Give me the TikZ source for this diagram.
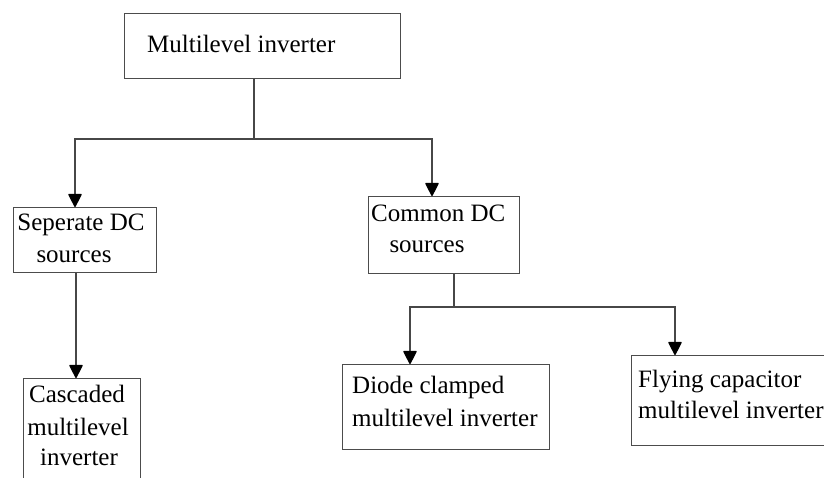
\documentclass[tikz,border=0pt]{standalone}
\usepackage{fontspec}
\setmainfont{Liberation Serif}
\usetikzlibrary{arrows.meta}
\begin{document}
\begin{tikzpicture}[x=1pt,y=-1pt,
  box/.style={draw=black!70,line width=1.3pt,inner sep=0pt,anchor=north west,rectangle},
  lbl/.style={inner sep=0pt,font=\fontsize{25}{30}\selectfont},
  conn/.style={draw=black!72,line width=1.4pt},
  arr/.style={conn,-{Triangle[width=14pt,length=14pt,round,color=black]}}]
\clip (0,0) rectangle (824,477);
\fill[white] (0,0) rectangle (824,477);
% boxes
\node[box,minimum width=276pt,minimum height=65pt] (top) at (124,13) {};
\node[box,minimum width=143pt,minimum height=65pt] (sep) at (13,207) {};
\node[box,minimum width=151pt,minimum height=77pt] (com) at (368,196) {};
\node[box,minimum width=117pt,minimum height=120pt] (cas) at (23,378) {};
\node[box,minimum width=207pt,minimum height=85pt] (dio) at (342,364) {};
\node[box,minimum width=220pt,minimum height=90pt] (fly) at (631,355) {};
% texts
\node[lbl,anchor=base west] (t1) at (147,52) {Multilevel inverter};
\node[lbl,anchor=base] (s1) at (81,230) {Seperate DC};
\node[lbl,anchor=base] (s2) at (74,262) {sources};
\node[lbl,anchor=base west] (c1) at (371,221) {Common DC};
\node[lbl,anchor=base] (c2) at (427,252) {sources};
\node[lbl,anchor=base] (k1) at (77,402) {Cascaded};
\node[lbl,anchor=base] (k2) at (78,435) {multilevel};
\node[lbl,anchor=base] (k3) at (79,465) {inverter};
\node[lbl,anchor=base west] (d1) at (352,393) {Diode clamped};
\node[lbl,anchor=base west] (d2) at (352,426) {multilevel inverter};
\node[lbl,anchor=base west] (f1) at (638,387) {Flying capacitor};
\node[lbl,anchor=base west] (f2) at (638,418) {multilevel inverter};
% junctions
\coordinate (j1) at (254,139);
\coordinate (jL) at (75,139);
\coordinate (jR) at (432,139);
\coordinate (sL) at (76,300);
\coordinate (j2) at (454,307);
\coordinate (jD) at (410,307);
\coordinate (jF) at (675,307);
% connectors
\draw[conn] (top.south -| j1) -- (j1);
\draw[arr] (j1) -- (jL) -- (sep.north -| jL);
\draw[arr] (j1) -- (jR) -- (com.north -| jR);
\draw[arr] (sep.south -| sL) -- (cas.north -| sL);
\draw[conn] (com.south -| j2) -- (j2);
\draw[arr] (j2) -- (jD) -- (dio.north -| jD);
\draw[arr] (j2) -- (jF) -- (fly.north -| jF);
\end{tikzpicture}
\end{document}
